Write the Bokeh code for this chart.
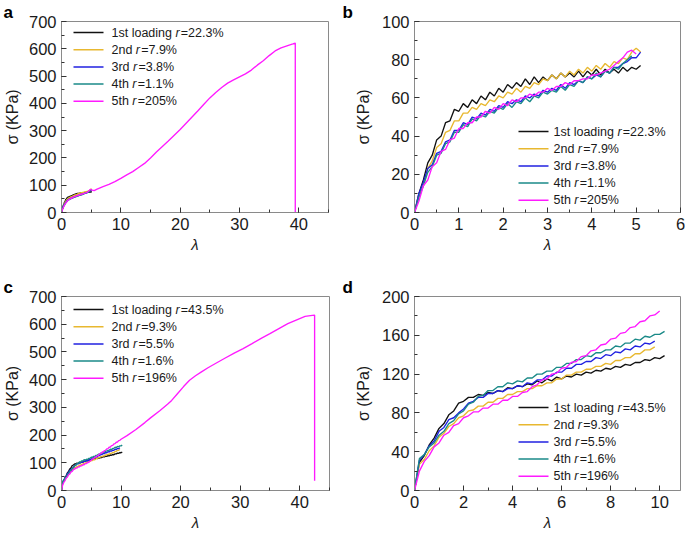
from bokeh.plotting import figure
from bokeh.layouts import row, column
from bokeh.models import Range1d, SingleIntervalTicker, Label, BoxAnnotation
from bokeh.embed import file_html
from bokeh.resources import INLINE

# ---------------- data ----------------
# panel b (also the first part of panel a)
LAM_B = [0.0, 0.1, 0.2, 0.3, 0.4, 0.5, 0.6, 0.7, 0.8, 0.9,
         1.0, 1.1, 1.2, 1.3, 1.4, 1.5, 1.6, 1.7, 1.8, 1.9,
         2.0, 2.1, 2.2, 2.3, 2.4, 2.5, 2.6, 2.7, 2.8, 2.9,
         3.0, 3.1, 3.2, 3.3, 3.4, 3.5, 3.6, 3.7, 3.8, 3.9,
         4.0, 4.1, 4.2, 4.3, 4.4, 4.5, 4.6, 4.7, 4.8, 4.9,
         5.0, 5.1]
SIG_B1 = [0, 10, 17, 26, 30, 38, 40, 47, 48, 54,
          53, 57, 55, 59, 57, 61, 59, 63, 61, 65,
          63, 67, 65, 68, 66, 70, 67, 71, 68, 71,
          69, 72, 70, 73, 71, 73, 71, 74, 71, 74,
          72, 75, 72, 75, 73, 75, 73, 76, 74, 76,
          75, 77]
SIG_B2 = [0, 9, 14, 23, 27, 34, 36, 42, 43, 48,
          48, 52, 52, 55, 54, 57, 56, 59, 58, 61,
          60, 63, 62, 65, 63, 66, 65, 68, 67, 70,
          69, 72, 70, 73, 71, 74, 72, 75, 73, 76,
          74, 77, 75, 78, 76, 79, 78, 81, 80, 84,
          86, 84]
SIG_B3 = [0, 10, 16, 23, 25, 31, 32, 37, 38, 43,
          43, 47, 46, 50, 49, 52, 51, 54, 53, 56,
          55, 58, 57, 59, 58, 61, 60, 62, 61, 64,
          63, 65, 64, 67, 65, 68, 67, 69, 68, 71,
          70, 72, 71, 74, 73, 76, 76, 78, 79, 81,
          81, 84]
SIG_B4 = [0, 8, 14, 21, 24, 30, 31, 36, 37, 42,
          42, 46, 45, 49, 48, 51, 50, 53, 52, 55,
          54, 57, 55, 58, 57, 60, 58, 61, 60, 63,
          62, 64, 63, 66, 64, 67, 66, 69, 68, 71,
          70, 73, 71, 74, 73, 76, 75, 78, 80, 82]
SIG_B5 = [0, 6, 14, 17, 24, 26, 32, 33, 38, 39,
          44, 44, 47, 47, 50, 50, 53, 52, 55, 54,
          57, 56, 59, 58, 60, 60, 62, 61, 63, 63,
          65, 64, 66, 66, 68, 67, 69, 69, 70, 70,
          72, 72, 73, 74, 75, 77, 79, 81, 84, 85,
          83]
# panel a: 5th loading continues after lambda = 5
LAM_A5_EXT = [5.5, 6, 7, 8, 9, 10, 11, 12, 13, 14, 15, 16, 17, 18, 19, 20,
              21, 22, 23, 24, 25, 26, 27, 28, 29, 30, 31, 32, 33, 34, 35, 36,
              37, 38, 39, 39.4, 39.4]
SIG_A5_EXT = [80, 86, 95, 103, 113, 125, 138, 150, 165, 180, 200, 222, 242, 262,
              283, 304, 327, 350, 373, 397, 420, 440, 458, 474, 486, 497, 508,
              522, 540, 556, 575, 592, 603, 611, 618, 621, 0]

# panel d (also the first part of panel c)
LAM_D = [0.0, 0.2, 0.4, 0.6, 0.8, 1.0, 1.2, 1.4, 1.6, 1.8,
         2.0, 2.2, 2.4, 2.6, 2.8, 3.0, 3.2, 3.4, 3.6, 3.8,
         4.0, 4.2, 4.4, 4.6, 4.8, 5.0, 5.2, 5.4, 5.6, 5.8,
         6.0, 6.2, 6.4, 6.6, 6.8, 7.0, 7.2, 7.4, 7.6, 7.8,
         8.0, 8.2, 8.4, 8.6, 8.8, 9.0, 9.2, 9.4, 9.6, 9.8,
         10.0, 10.2]
SIG_D1 = [0, 29, 36, 47, 54, 64, 69, 78, 82, 90,
          92, 96, 96, 99, 98, 101, 100, 103, 102, 106,
          105, 108, 107, 110, 109, 113, 111, 115, 113, 117,
          115, 118, 117, 120, 119, 122, 121, 124, 123, 126,
          125, 128, 127, 130, 129, 132, 132, 135, 134, 137,
          136, 139]
SIG_D2 = [0, 27, 32, 41, 46, 55, 59, 66, 69, 75,
          77, 82, 83, 87, 87, 91, 91, 95, 95, 99,
          99, 102, 102, 105, 105, 108, 108, 111, 111, 115,
          115, 119, 119, 122, 122, 125, 125, 128, 128, 131,
          130, 134, 134, 137, 137, 141, 141, 145, 145, 148]
SIG_D3 = [0, 31, 37, 46, 51, 61, 65, 73, 75, 80,
          84, 90, 92, 96, 96, 100, 100, 103, 102, 105,
          105, 108, 107, 111, 110, 114, 114, 118, 118, 122,
          122, 126, 126, 130, 130, 133, 133, 137, 136, 140,
          139, 143, 142, 146, 145, 149, 148, 152, 151, 154]
SIG_D4 = [0, 33, 37, 45, 49, 57, 61, 69, 72, 79,
          82, 89, 91, 97, 98, 103, 103, 107, 107, 111,
          110, 113, 112, 116, 116, 120, 120, 123, 123, 127,
          127, 131, 131, 135, 135, 139, 138, 142, 142, 145,
          145, 149, 148, 152, 152, 156, 155, 159, 158, 161,
          161, 164]
SIG_D5 = [0, 20, 30, 36, 45, 49, 57, 60, 67, 69,
          75, 77, 81, 81, 85, 85, 89, 89, 93, 93,
          97, 97, 101, 102, 107, 109, 114, 115, 120, 121,
          126, 127, 132, 133, 138, 139, 144, 145, 150, 151,
          156, 157, 162, 163, 168, 169, 174, 175, 180, 181,
          185]
# panel c: 5th loading continues after lambda = 10
LAM_C5_EXT = [11, 12.5, 14, 15, 16.5, 17.8, 18.5, 19.5, 20.5, 21.5,
              22.5, 23.5, 24.6, 26, 27.5, 29, 30.5, 32, 33.6, 35,
              36.5, 38, 39.5, 40.9, 41.8, 42.5, 42.5]
SIG_C5_EXT = [198, 220, 245, 263, 288, 311, 325, 350, 375, 398,
              414, 428, 443, 460, 478, 496, 512, 530, 550, 566,
              584, 602, 616, 628, 631, 633, 35]

NAMES = ["1st loading", "2nd", "3rd", "4th", "5th"]
R_AB = ["22.3%", "7.9%", "3.8%", "1.1%", "205%"]
R_CD = ["43.5%", "9.3%", "5.5%", "1.6%", "196%"]

COLORS = ["#111111", "#e8b830", "#2020e0", "#1a8a88", "#ff1aff"]
FONT = "Liberation Sans"
FRAME = "#8a8a8a"
TXT = "#1a1a1a"

# Arial / Liberation Sans advance widths (per 1000 em)
ADV = {"1": 556, "2": 556, "3": 556, "4": 556, "5": 556, "6": 556, "7": 556,
       "8": 556, "9": 556, "0": 556, "s": 500, "t": 278, " ": 278, "l": 222,
       "o": 556, "a": 556, "d": 556, "i": 222, "n": 556, "g": 556, "r": 333,
       "h": 556}


def tw(s, size):
    return sum(ADV.get(c, 556) for c in s) * size / 1000.0


def make_fig(w, h, xr, yr, xint, yint, mb, letter, letter_off, ylab_standoff):
    p = figure(width=w, height=h, output_backend="svg", toolbar_location=None,
               x_range=Range1d(*xr), y_range=Range1d(*yr), tools="")
    p.min_border_left, p.min_border_right, p.min_border_top, p.min_border_bottom = mb
    p.grid.visible = False
    p.outline_line_color = FRAME
    p.outline_line_width = 1
    p.background_fill_color = "white"
    p.border_fill_color = "white"
    # panel letter as a left-shifted title
    p.title.text = letter
    p.title.text_font = FONT
    p.title.text_font_style = "bold"
    p.title.text_font_size = "17px"
    p.title.text_color = "black"
    p.title.align = "left"
    p.title.offset = letter_off
    p.title.standoff = 0
    p.xaxis.ticker = SingleIntervalTicker(interval=xint, num_minor_ticks=2)
    p.yaxis.ticker = SingleIntervalTicker(interval=yint, num_minor_ticks=2)
    for ax in (p.xaxis[0], p.yaxis[0]):
        ax.axis_line_color = FRAME
        ax.major_tick_in = 5
        ax.major_tick_out = 0
        ax.minor_tick_in = 3
        ax.minor_tick_out = 0
        ax.major_tick_line_color = "#333333"
        ax.minor_tick_line_color = "#333333"
        ax.major_label_text_font = FONT
        ax.major_label_text_font_size = "16.5px"
        ax.major_label_text_color = TXT
    p.yaxis.major_label_standoff = 5
    p.xaxis.major_label_standoff = 5
    p.xaxis.axis_label = "λ"
    p.xaxis.axis_label_text_font = FONT
    p.xaxis.axis_label_text_font_style = "italic"
    p.xaxis.axis_label_text_font_size = "15px"
    p.xaxis.axis_label_text_color = TXT
    p.xaxis.axis_label_standoff = 3
    p.yaxis.axis_label = "σ (KPa)"
    p.yaxis.axis_label_text_font = FONT
    p.yaxis.axis_label_text_font_style = "normal"
    p.yaxis.axis_label_text_font_size = "16px"
    p.yaxis.axis_label_text_color = TXT
    p.yaxis.axis_label_standoff = ylab_standoff
    return p


def sc(**kw):
    d = dict(x_units="screen", y_units="screen", text_font=FONT)
    d.update(kw)
    return Label(**d)


def add_legend(p, x0, gap, ytop, rvals, dy=17.2, fs=12.5):
    for i, (name, rv, col) in enumerate(zip(NAMES, rvals, COLORS)):
        y = ytop - i * dy
        p.add_layout(BoxAnnotation(left=x0, right=x0 + 30, bottom=y - 0.75, top=y + 0.75,
                                   left_units="screen", right_units="screen",
                                   bottom_units="screen", top_units="screen",
                                   fill_color=col, fill_alpha=1.0, line_alpha=0))
        tx = x0 + 30 + gap
        p.add_layout(sc(x=tx, y=y, text=name, text_font_size=f"{fs}px",
                        text_baseline="middle", text_align="left", text_color=TXT))
        rx = tx + tw(name + " ", fs)
        p.add_layout(sc(x=rx, y=y, text="r", text_font_style="italic",
                        text_font_size=f"{fs}px", text_baseline="middle",
                        text_align="left", text_color=TXT))
        p.add_layout(sc(x=rx + tw("r", fs) + 1.2, y=y, text="=" + rv,
                        text_font_size=f"{fs}px", text_baseline="middle",
                        text_align="left", text_color=TXT))


LW = 1.35

# ---- panel a ----
pa = make_fig(340, 262, (0, 45), (0, 700), 10, 100, (61, 12, 18, 49), "a", -58, 5)
for sig, col in zip([SIG_B1, SIG_B2, SIG_B3, SIG_B4], COLORS[:4]):
    pa.line(LAM_B[:len(sig)], sig, line_color=col, line_width=LW)
pa.line(LAM_B[:len(SIG_B5)] + LAM_A5_EXT, SIG_B5 + SIG_A5_EXT,
        line_color=COLORS[4], line_width=LW)
add_legend(pa, 12, 8, 180, R_AB)

# ---- panel b ----
pb = make_fig(345, 262, (0, 6), (0, 100), 1, 20, (74, 5, 17, 50), "b", -72, 7)
for sig, col in zip([SIG_B1, SIG_B2, SIG_B3, SIG_B4, SIG_B5], COLORS):
    pb.line(LAM_B[:len(sig)], sig, line_color=col, line_width=LW)
add_legend(pb, 104, 5, 81, R_AB)

# ---- panel c ----
pc = make_fig(340, 276, (0, 45), (0, 700), 10, 100, (61, 11, 33, 48), "c", -58, 5)
for sig, col in zip([SIG_D1, SIG_D2, SIG_D3, SIG_D4], COLORS[:4]):
    pc.line(LAM_D[:len(sig)], sig, line_color=col, line_width=LW)
pc.line(LAM_D[:len(SIG_D5)] + LAM_C5_EXT, SIG_D5 + SIG_C5_EXT,
        line_color=COLORS[4], line_width=LW)
add_legend(pc, 12, 8, 181, R_CD)

# ---- panel d ----
pd_ = make_fig(345, 276, (0, 10.85), (0, 200), 2, 40, (74, 5, 34, 47), "d", -72, 7)
for sig, col in zip([SIG_D1, SIG_D2, SIG_D3, SIG_D4, SIG_D5], COLORS):
    pd_.line(LAM_D[:len(sig)], sig, line_color=col, line_width=LW)
add_legend(pd_, 104, 5, 83, R_CD)

layout = column(row(pa, pb), row(pc, pd_))
open("out.html", "w").write(file_html(layout, INLINE))
